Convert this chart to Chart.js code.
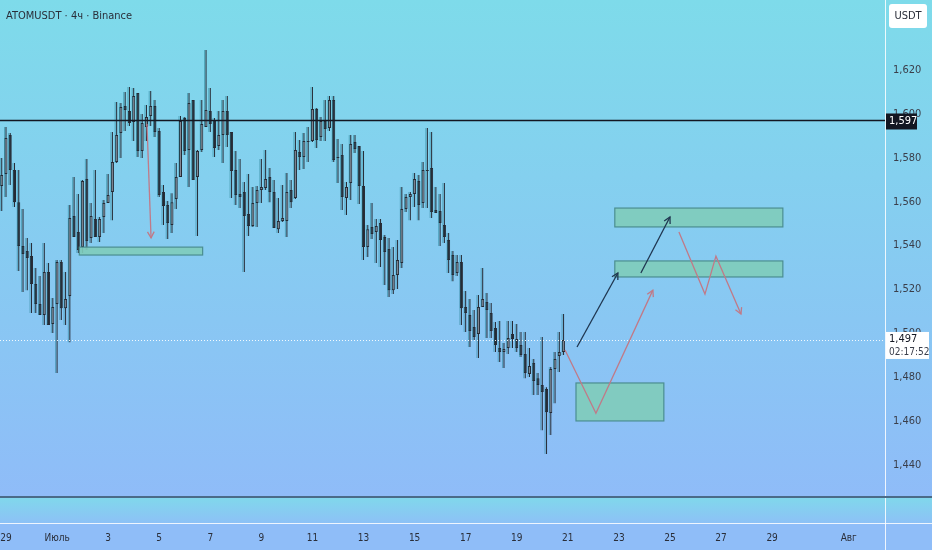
<!DOCTYPE html>
<html>
<head>
<meta charset="utf-8">
<script src="https://cdn.jsdelivr.net/npm/chart.js@4.4.1/dist/chart.umd.min.js"></script>
<style>
  html, body { margin: 0; padding: 0; background: #8fbdf8; }
  #wrap { position: relative; width: 932px; height: 550px; }
</style>
</head>
<body>
<div id="wrap"><canvas id="chart"></canvas></div>
<script>
const title = "ATOMUSDT · 4ч · Binance";
const currency = "USDT";
const countdown = "02:17:52";

// day 0 = 29 June 00:00, one candle every 4 hours
const firstCandleDay = -1 / 6;
const candleStep = 1 / 6;

const opens = [
  1.5671, 1.5726, 1.5904, 1.5744, 1.5598, 1.5398, 1.5375, 1.5352, 1.5225, 1.5134,
  1.5084, 1.5280, 1.5043, 1.5134, 1.5325, 1.5115, 1.5170, 1.5535, 1.5462, 1.5393,
  1.5703, 1.5435, 1.5521, 1.5439, 1.5530, 1.5594, 1.5644, 1.5781, 1.5913, 1.6036,
  1.6013, 1.5963, 1.6095, 1.5831, 1.5940, 1.5990, 1.6036, 1.5922, 1.5644, 1.5585,
  1.5494, 1.5612, 1.5712, 1.5981, 1.5835, 1.6063, 1.5712, 1.5835, 1.5940, 1.6013,
  1.5972, 1.5854, 1.5904, 1.6013, 1.5917, 1.5744, 1.5635, 1.5644, 1.5544, 1.5489,
  1.5594, 1.5653, 1.5662, 1.5712, 1.5644, 1.5475, 1.5512, 1.5512, 1.5653, 1.5617,
  1.5826, 1.5804, 1.5872, 1.5876, 1.6022, 1.5895, 1.5968, 1.5936, 1.6063, 1.5804,
  1.5813, 1.5617, 1.5685, 1.5872, 1.5854, 1.5671, 1.5393, 1.5485, 1.5462, 1.5503,
  1.5439, 1.5384, 1.5197, 1.5266, 1.5321, 1.5567, 1.5621, 1.5635, 1.5694, 1.5594,
  1.5744, 1.5753, 1.5562, 1.5558, 1.5494, 1.5425, 1.5357, 1.5275, 1.5325, 1.5120,
  1.5084, 1.5029, 1.4997, 1.5120, 1.5143, 1.5093, 1.5024, 1.4933, 1.4915, 1.4933,
  1.4997, 1.4974, 1.4947, 1.4906, 1.4815, 1.4865, 1.4796, 1.4765, 1.4746, 1.4637,
  1.4838, 1.4897, 1.4915
];
const highs = [
  1.5799, 1.5940, 1.5913, 1.5776, 1.5744, 1.5567, 1.5435, 1.5412, 1.5298, 1.5261,
  1.5412, 1.5321, 1.5161, 1.5334, 1.5334, 1.5280, 1.5585, 1.5712, 1.5635, 1.5699,
  1.5794, 1.5594, 1.5744, 1.5530, 1.5608, 1.5726, 1.5917, 1.6054, 1.6050, 1.6100,
  1.6123, 1.6118, 1.6095, 1.6000, 1.6041, 1.6104, 1.6063, 1.5936, 1.5676, 1.5603,
  1.5639, 1.5776, 1.5990, 1.5986, 1.6095, 1.6063, 1.5835, 1.6063, 1.6291, 1.6118,
  1.5981, 1.6013, 1.6063, 1.6082, 1.5917, 1.5831, 1.5794, 1.5690, 1.5726, 1.5667,
  1.5671, 1.5794, 1.5835, 1.5753, 1.5699, 1.5617, 1.5676, 1.5731, 1.5699, 1.5917,
  1.5881, 1.5913, 1.5940, 1.6123, 1.6027, 1.5986, 1.6063, 1.6082, 1.6082, 1.5886,
  1.5863, 1.5690, 1.5904, 1.5904, 1.5854, 1.5831, 1.5494, 1.5594, 1.5521, 1.5521,
  1.5448, 1.5435, 1.5393, 1.5425, 1.5667, 1.5635, 1.5644, 1.5731, 1.5722, 1.5781,
  1.5936, 1.5917, 1.5667, 1.5635, 1.5685, 1.5457, 1.5375, 1.5357, 1.5357, 1.5193,
  1.5157, 1.5106, 1.5175, 1.5298, 1.5184, 1.5138, 1.5052, 1.5056, 1.4956, 1.5056,
  1.5056, 1.5043, 1.5006, 1.5006, 1.4933, 1.4883, 1.4819, 1.4983, 1.4755, 1.4847,
  1.4915, 1.5006, 1.5088
];
const lows = [
  1.5558, 1.5621, 1.5676, 1.5576, 1.5284, 1.5188, 1.5197, 1.5093, 1.5093, 1.5084,
  1.5038, 1.5038, 1.5002, 1.4819, 1.5061, 1.5038, 1.4960, 1.5439, 1.5366, 1.5366,
  1.5380, 1.5412, 1.5439, 1.5416, 1.5457, 1.5594, 1.5516, 1.5776, 1.5799, 1.5922,
  1.5945, 1.5876, 1.5804, 1.5799, 1.5876, 1.5945, 1.5895, 1.5621, 1.5494, 1.5430,
  1.5457, 1.5567, 1.5712, 1.5813, 1.5667, 1.5699, 1.5444, 1.5826, 1.5940, 1.5917,
  1.5804, 1.5835, 1.5776, 1.5849, 1.5617, 1.5585, 1.5571, 1.5280, 1.5444, 1.5485,
  1.5485, 1.5594, 1.5653, 1.5598, 1.5480, 1.5457, 1.5507, 1.5439, 1.5571, 1.5612,
  1.5744, 1.5749, 1.5781, 1.5872, 1.5845, 1.5876, 1.5876, 1.5922, 1.5781, 1.5685,
  1.5562, 1.5539, 1.5608, 1.5822, 1.5589, 1.5334, 1.5348, 1.5430, 1.5321, 1.5302,
  1.5220, 1.5166, 1.5179, 1.5202, 1.5298, 1.5553, 1.5516, 1.5576, 1.5516, 1.5571,
  1.5571, 1.5526, 1.5548, 1.5398, 1.5412, 1.5275, 1.5238, 1.5261, 1.5038, 1.5006,
  1.4938, 1.4970, 1.4888, 1.5120, 1.4979, 1.4979, 1.4915, 1.4869, 1.4842, 1.4906,
  1.4933, 1.4915, 1.4892, 1.4796, 1.4801, 1.4719, 1.4719, 1.4559, 1.4450, 1.4537,
  1.4682, 1.4824, 1.4901
];
const closes = [
  1.5722, 1.5890, 1.5744, 1.5598, 1.5398, 1.5362, 1.5343, 1.5225, 1.5134, 1.5084,
  1.5280, 1.5038, 1.5120, 1.5325, 1.5115, 1.5157, 1.5526, 1.5439, 1.5380, 1.5694,
  1.5421, 1.5535, 1.5439, 1.5521, 1.5594, 1.5630, 1.5781, 1.5904, 1.6031, 1.6018,
  1.5959, 1.6082, 1.5831, 1.5959, 1.5986, 1.6036, 1.5917, 1.5630, 1.5580, 1.5503,
  1.5598, 1.5712, 1.5968, 1.5831, 1.6050, 1.5699, 1.5831, 1.5954, 1.6018, 1.5954,
  1.5845, 1.5904, 1.6013, 1.5904, 1.5740, 1.5630, 1.5621, 1.5535, 1.5489, 1.5594,
  1.5653, 1.5667, 1.5703, 1.5644, 1.5480, 1.5512, 1.5526, 1.5644, 1.5598, 1.5835,
  1.5804, 1.5876, 1.5876, 1.6022, 1.5881, 1.5968, 1.5931, 1.6063, 1.5790, 1.5799,
  1.5621, 1.5667, 1.5863, 1.5840, 1.5671, 1.5393, 1.5475, 1.5453, 1.5489, 1.5425,
  1.5371, 1.5197, 1.5266, 1.5334, 1.5567, 1.5621, 1.5635, 1.5703, 1.5585, 1.5744,
  1.5740, 1.5553, 1.5548, 1.5503, 1.5439, 1.5334, 1.5266, 1.5325, 1.5115, 1.5093,
  1.5011, 1.4983, 1.5120, 1.5157, 1.5106, 1.5011, 1.4947, 1.4915, 1.4929, 1.4979,
  1.4974, 1.4933, 1.4901, 1.4819, 1.4851, 1.4783, 1.4765, 1.4733, 1.4641, 1.4838,
  1.4883, 1.4915, 1.4970
];

// axes
const dayMin = -0.235;
const dayMax = 34.42;
const tickDays = [0, 2, 4, 6, 8, 10, 12, 14, 16, 18, 20, 22, 24, 26, 28, 30, 33];
const tickLabels = ["29", "Июль", "3", "5", "7", "9", "11", "13", "15", "17", "19", "21", "23", "25", "27", "29", "Авг"];
const priceMin = 1.4259;
const priceMax = 1.6519;
const priceTicks = [1.44, 1.46, 1.48, 1.50, 1.52, 1.54, 1.56, 1.58, 1.60, 1.62];

// drawings
const levelPrice = 1.597;
const zoneStart = [2.87, 23.84, 23.84, 22.32];
const zoneEnd = [7.70, 30.42, 30.42, 25.76];
const zoneTop = [1.5393, 1.5571, 1.5330, 1.4774];
const zoneBottom = [1.5357, 1.5485, 1.5257, 1.4601];
const redPaths = [
  [[5.52, 1.5954], [5.68, 1.5435]],
  [[21.89, 1.4924], [23.10, 1.4636], [25.33, 1.5197]],
  [[26.35, 1.5462], [27.37, 1.5179], [27.80, 1.5352], [28.78, 1.5088]],
];
const navyPaths = [
  [[22.36, 1.4938], [23.96, 1.5275]],
  [[24.86, 1.5275], [26.00, 1.5530]],
];

const fontFamily = "'DejaVu Sans Condensed', 'Liberation Sans Narrow', Roboto, sans-serif";
const textColor = "#2a2e39";
const candleDark = "#262a34";
const candleGrey = "#858894";

const candleDays = opens.map((o, i) => firstCandleDay + i * candleStep);
const wickData = candleDays.map((d, i) => ({ x: d, y: [lows[i], highs[i]] }));
const bodyData = candleDays.map((d, i) => ({ x: d, y: [opens[i], closes[i]] }));
const bodyColors = opens.map((o, i) => (closes[i] >= o ? candleGrey : candleDark));

function formatPrice(v) {
  return v.toFixed(3).replace(".", ",");
}

const backgroundPlugin = {
  id: "background",
  beforeDraw(chart) {
    const { ctx, chartArea, width, height } = chart;
    const paneBottom = chartArea.bottom + 27;
    ctx.save();
    let grad = ctx.createLinearGradient(0, 0, 0, chartArea.bottom);
    grad.addColorStop(0, "#7edbea");
    grad.addColorStop(1, "#8fbcf8");
    ctx.fillStyle = grad;
    ctx.fillRect(0, 0, width, chartArea.bottom);
    grad = ctx.createLinearGradient(0, chartArea.bottom, 0, paneBottom);
    grad.addColorStop(0, "#7fd9eb");
    grad.addColorStop(1, "#8dc1f6");
    ctx.fillStyle = grad;
    ctx.fillRect(0, chartArea.bottom, width, paneBottom - chartArea.bottom);
    ctx.fillStyle = "#8fbdf8";
    ctx.fillRect(0, paneBottom, width, height - paneBottom);

    ctx.strokeStyle = "rgba(255,255,255,0.85)";
    ctx.lineWidth = 1;
    ctx.beginPath();
    ctx.moveTo(0, paneBottom + 0.5);
    ctx.lineTo(width, paneBottom + 0.5);
    ctx.moveTo(chartArea.right + 0.5, 0);
    ctx.lineTo(chartArea.right + 0.5, height);
    ctx.stroke();

    ctx.strokeStyle = "#4a6b88";
    ctx.lineWidth = 2;
    ctx.beginPath();
    ctx.moveTo(0, chartArea.bottom + 1);
    ctx.lineTo(width, chartArea.bottom + 1);
    ctx.stroke();
    ctx.restore();
  },
  // teal halo on the left side of each candle
  beforeDatasetDraw(chart) {
    const ctx = chart.ctx;
    ctx.shadowColor = "rgba(40, 130, 150, 0.55)";
    ctx.shadowOffsetX = -1.5;
    ctx.shadowOffsetY = 0;
    ctx.shadowBlur = 0;
  },
  afterDatasetDraw(chart) {
    const ctx = chart.ctx;
    ctx.shadowColor = "rgba(0,0,0,0)";
    ctx.shadowOffsetX = 0;
  },
};

function drawArrowHead(ctx, from, to) {
  const angle = Math.atan2(to[1] - from[1], to[0] - from[0]);
  const len = 7;
  ctx.beginPath();
  ctx.moveTo(to[0] - len * Math.cos(angle - 0.5), to[1] - len * Math.sin(angle - 0.5));
  ctx.lineTo(to[0], to[1]);
  ctx.lineTo(to[0] - len * Math.cos(angle + 0.5), to[1] - len * Math.sin(angle + 0.5));
  ctx.stroke();
}

function drawPaths(ctx, x, y, paths, color) {
  ctx.strokeStyle = color;
  ctx.lineWidth = 1.3;
  for (const path of paths) {
    const pts = path.map((p) => [x.getPixelForValue(p[0]), y.getPixelForValue(p[1])]);
    ctx.beginPath();
    pts.forEach((p, i) => (i === 0 ? ctx.moveTo(p[0], p[1]) : ctx.lineTo(p[0], p[1])));
    ctx.stroke();
    drawArrowHead(ctx, pts[pts.length - 2], pts[pts.length - 1]);
  }
}

const drawingsPlugin = {
  id: "drawings",
  afterDatasetsDraw(chart) {
    const { ctx, chartArea } = chart;
    const x = chart.scales.x;
    const y = chart.scales.y;
    ctx.save();

    // last price dotted line
    const lastY = Math.round(y.getPixelForValue(closes[closes.length - 1])) + 0.5;
    ctx.strokeStyle = "rgba(255,255,255,0.9)";
    ctx.lineWidth = 1;
    ctx.setLineDash([1, 2]);
    ctx.beginPath();
    ctx.moveTo(chartArea.left, lastY);
    ctx.lineTo(chartArea.right, lastY);
    ctx.stroke();
    ctx.setLineDash([]);

    // horizontal level
    const levelY = y.getPixelForValue(levelPrice);
    ctx.strokeStyle = "#131722";
    ctx.lineWidth = 1.5;
    ctx.beginPath();
    ctx.moveTo(chartArea.left, levelY);
    ctx.lineTo(chartArea.right, levelY);
    ctx.stroke();

    // zones
    for (let i = 0; i < zoneStart.length; i++) {
      const x0 = x.getPixelForValue(zoneStart[i]);
      const x1 = x.getPixelForValue(zoneEnd[i]);
      const y0 = y.getPixelForValue(zoneTop[i]);
      const y1 = y.getPixelForValue(zoneBottom[i]);
      ctx.fillStyle = "rgba(128, 204, 186, 0.9)";
      ctx.fillRect(x0, y0, x1 - x0, y1 - y0);
      ctx.strokeStyle = "#4b8e90";
      ctx.lineWidth = 1.2;
      ctx.strokeRect(x0, y0, x1 - x0, y1 - y0);
    }

    drawPaths(ctx, x, y, redPaths, "#c07a88");
    drawPaths(ctx, x, y, navyPaths, "#1f3650");
    ctx.restore();
  },
  afterDraw(chart) {
    const { ctx, chartArea } = chart;
    const y = chart.scales.y;
    ctx.save();

    // title
    ctx.fillStyle = textColor;
    ctx.font = "11px " + fontFamily;
    ctx.textBaseline = "middle";
    ctx.textAlign = "left";
    ctx.fillText(title, 6, 16);

    // currency box
    ctx.fillStyle = "#ffffff";
    ctx.beginPath();
    ctx.roundRect(chartArea.right + 4, 4, 38, 24, 3);
    ctx.fill();
    ctx.fillStyle = textColor;
    ctx.font = "11px " + fontFamily;
    ctx.textAlign = "center";
    ctx.fillText(currency, chartArea.right + 23, 16);

    // level label
    const levelY = y.getPixelForValue(levelPrice);
    ctx.fillStyle = "#131722";
    ctx.fillRect(chartArea.right + 1, levelY - 7, 31, 16);
    ctx.fillStyle = "#ffffff";
    ctx.textAlign = "left";
    ctx.fillText(formatPrice(levelPrice), chartArea.right + 4, levelY + 1);

    // last price label
    const last = closes[closes.length - 1];
    const lastY = y.getPixelForValue(last);
    ctx.fillStyle = "#ffffff";
    ctx.fillRect(chartArea.right + 1, lastY - 8, 43, 27);
    ctx.fillStyle = "#131722";
    ctx.fillText(formatPrice(last), chartArea.right + 4, lastY - 1);
    ctx.fillStyle = "#3a3e4a";
    ctx.font = "10px " + fontFamily;
    ctx.fillText(countdown, chartArea.right + 4, lastY + 12);
    ctx.restore();
  },
};

new Chart(document.getElementById("chart"), {
  type: "bar",
  data: {
    datasets: [
      {
        label: "wicks",
        data: wickData,
        backgroundColor: candleDark,
        maxBarThickness: 1,
        grouped: false,
        order: 2,
      },
      {
        label: "bodies",
        data: bodyData,
        backgroundColor: bodyColors,
        borderColor: candleDark,
        borderWidth: 1,
        borderSkipped: false,
        maxBarThickness: 3,
        minBarLength: 1,
        grouped: false,
        order: 1,
      },
    ],
  },
  options: {
    responsive: true,
    maintainAspectRatio: false,
    animation: false,
    layout: { padding: 0 },
    plugins: { legend: { display: false }, tooltip: { enabled: false } },
    scales: {
      x: {
        type: "linear",
        offset: false,
        min: dayMin,
        max: dayMax,
        grid: { display: false, drawTicks: false },
        border: { display: false },
        afterBuildTicks: (scale) => {
          scale.ticks = tickDays.map((v) => ({ value: v }));
        },
        afterFit: (scale) => {
          scale.height = 54;
          scale.paddingLeft = 0;
          scale.paddingRight = 0;
        },
        ticks: {
          autoSkip: false,
          maxRotation: 0,
          padding: 36,
          color: textColor,
          font: { family: fontFamily, size: 10 },
          callback: (v, i) => tickLabels[i],
        },
      },
      y: {
        position: "right",
        min: priceMin,
        max: priceMax,
        grid: { display: false, drawTicks: false },
        border: { display: false },
        afterBuildTicks: (scale) => {
          scale.ticks = priceTicks.map((v) => ({ value: v }));
        },
        afterFit: (scale) => {
          scale.width = 47;
          scale.paddingTop = 0;
          scale.paddingBottom = 0;
        },
        ticks: {
          padding: 8,
          color: "#3a3e4a",
          font: { family: fontFamily, size: 11 },
          callback: (v) => formatPrice(v),
        },
      },
    },
  },
  plugins: [backgroundPlugin, drawingsPlugin],
});
</script>
</body>
</html>
